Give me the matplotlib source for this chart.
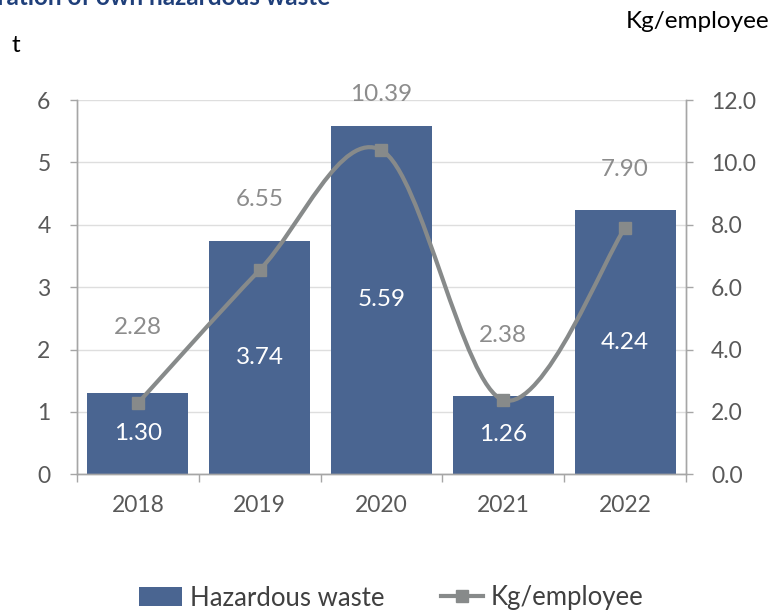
import numpy as np
import matplotlib
matplotlib.use("Agg")
import matplotlib.pyplot as plt
from matplotlib.path import Path
from matplotlib.patches import PathPatch, Patch
from matplotlib.lines import Line2D

plt.rcParams["font.family"] = ["Lato", "DejaVu Sans"]

# ------------------------------------------------------------
# data
# ------------------------------------------------------------
years = ["2018", "2019", "2020", "2021", "2022"]
hazardous_t = [1.30, 3.74, 5.59, 1.26, 4.24]
kg_per_employee = [2.28, 6.55, 10.39, 2.38, 7.90]

BAR_COLOR = "#4A6591"
LINE_COLOR = "#878A8A"
LABEL_GREY = "#8C8C8C"
TEXT_COLOR = "#404040"
TICK_COLOR = "#595959"
AXIS_COLOR = "#A6A6A6"


def smooth_path(xs, ys, sx, sy):
    # excel-like smoothed line (catmull-rom -> cubic bezier), done in pixel-ish space
    px = np.asarray(xs, float) * sx
    py = np.asarray(ys, float) * sy
    pts = np.column_stack([px, py])
    n = len(pts)
    verts = [pts[0]]
    codes = [Path.MOVETO]
    for i in range(n - 1):
        p0 = pts[i - 1] if i > 0 else pts[i]
        p1 = pts[i]
        p2 = pts[i + 1]
        p3 = pts[i + 2] if i + 2 < n else pts[i + 1]
        c1 = p1 + (p2 - p0) / 6.0
        c2 = p2 - (p3 - p1) / 6.0
        verts += [c1, c2, p2]
        codes += [Path.CURVE4] * 3
    verts = np.array(verts)
    verts[:, 0] /= sx
    verts[:, 1] /= sy
    return Path(verts, codes)


fig = plt.figure(figsize=(7.72, 6.12), dpi=100)
ax = fig.add_axes([0.0997, 0.225, 0.7889, 0.6116])
ax2 = ax.twinx()

x = np.arange(len(years))
bars = ax.bar(x, hazardous_t, width=0.83, color=BAR_COLOR, zorder=2)

ax.set_xlim(-0.5, len(years) - 0.5)
ax.set_ylim(0, 6)
ax.set_yticks(range(0, 7))
ax2.set_ylim(0, 12)
ax2.set_yticks(np.arange(0, 12.1, 2))
ax2.set_yticklabels([f"{v:.1f}" for v in np.arange(0, 12.1, 2)])

ax.grid(axis="y", color="#DEDEDE", linewidth=1, zorder=0)
ax.set_axisbelow(True)

# x ticks at category boundaries, labels centered
ax.set_xticks(np.arange(-0.5, len(years), 1.0))
ax.set_xticklabels([])
ax.set_xticks(x, minor=True)
ax.set_xticklabels(years, minor=True)
ax.tick_params(axis="x", which="major", direction="out", length=6, color=AXIS_COLOR, width=1)
ax.tick_params(axis="x", which="minor", length=0, pad=15, labelsize=16.5, labelcolor=TICK_COLOR)
ax.tick_params(axis="y", direction="out", length=5, color=AXIS_COLOR, width=1,
               labelsize=16.5, labelcolor=TICK_COLOR, pad=14)
ax2.tick_params(axis="y", direction="out", length=5, color=AXIS_COLOR, width=1,
                labelsize=16.5, labelcolor=TICK_COLOR, pad=13)

for a in (ax, ax2):
    a.spines["top"].set_visible(False)
    for side in ("left", "right", "bottom"):
        a.spines[side].set_color(AXIS_COLOR)
        a.spines[side].set_linewidth(1)

# smoothed line on secondary axis
path = smooth_path(x, kg_per_employee, 121.8, 31.19)
ax2.add_patch(PathPatch(path, facecolor="none", edgecolor=LINE_COLOR, linewidth=3,
                        zorder=3, capstyle="round"))
ax2.plot(x, kg_per_employee, linestyle="none", marker="s", markersize=8,
         color=LINE_COLOR, zorder=4)

# labels
for xi, v in zip(x, hazardous_t):
    ax.text(xi, v / 2, f"{v:.2f}", ha="center", va="center", color="white",
            fontsize=17.5, zorder=5)

line_offsets = [76, 70, 56, 65, 58]
for xi, v, off in zip(x, kg_per_employee, line_offsets):
    ax2.annotate(f"{v:.2f}", xy=(xi, v), xytext=(0, off * 0.72), textcoords="offset points",
                 ha="center", va="center", color=LABEL_GREY, fontsize=17.5, zorder=5)

# axis unit labels + clipped title
fig.text(0.0155, 1 - 45 / 612, "t", ha="left", va="center", fontsize=17.5, color="black")
fig.text(0.997, 1 - 22 / 612, "Kg/employee", ha="right", va="center", fontsize=17.5,
         color="black")
fig.text(330 / 772, 1 - 5 / 612, "Generation of own hazardous waste", ha="right",
         va="baseline", fontsize=17.5, fontweight="bold", color="#1F3F7A")

# legend
handles = [
    Patch(facecolor=BAR_COLOR, edgecolor="none", label="Hazardous waste"),
    Line2D([0], [0], color=LINE_COLOR, linewidth=3, marker="s", markersize=8,
           label="Kg/employee"),
]
fig.legend(handles=handles, loc="center", bbox_to_anchor=(0.507, 1 - 598 / 612), ncol=2,
           frameon=False, fontsize=18.5, labelcolor=TEXT_COLOR, handlelength=1.65,
           handleheight=0.75, handletextpad=0.3, columnspacing=2.2)

fig.savefig("out.png", dpi=100)
